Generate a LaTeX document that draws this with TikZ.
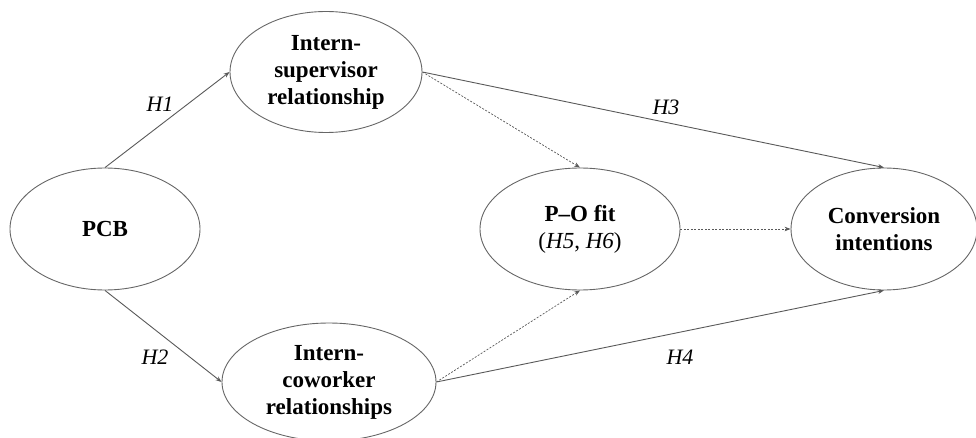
\documentclass[tikz,border=0pt]{standalone}
\usepackage{fontspec}
\setmainfont{Liberation Serif}
\usetikzlibrary{shapes.geometric,arrows.meta}
\begin{document}
\begin{tikzpicture}[x=1pt,y=-1pt,
  oval/.style={ellipse,draw=black!60,line width=0.9pt,inner sep=0pt,align=center,
    font=\fontsize{23}{27}\selectfont\bfseries},
  conn/.style={draw=black!65,line width=0.9pt,-{Stealth[length=6pt,width=4.5pt]}},
  dotconn/.style={conn,dash pattern=on 2pt off 1.5pt,line width=0.7pt},
  hlab/.style={font=\fontsize{22}{24}\selectfont\itshape}]
\useasboundingbox (0,0) rectangle (976,438);
\node[oval,minimum width=190,minimum height=122] (pcb) at (105,229) {PCB};
\node[oval,minimum width=192,minimum height=121] (sup) at (326,72) {Intern-\\supervisor\\relationship};
\node[oval,minimum width=214,minimum height=118] (cow) at (329,382) {Intern-\\coworker\\relationships};
\node[oval,minimum width=200,minimum height=122] (po) at (580,229) {P--O fit\\{\mdseries(\textit{H5}, \textit{H6})}};
\node[oval,minimum width=186,minimum height=122] (ci) at (884,229) {Conversion\\intentions};
\draw[conn] (pcb.north) -- (sup.west);
\draw[conn] (pcb.south) -- (cow.west);
\draw[conn] (sup.east) -- (ci.north);
\draw[dotconn] (sup.east) -- (po.north);
\draw[conn] (cow.east) -- (ci.south);
\draw[dotconn] (cow.east) -- (po.south);
\draw[dotconn] (po.east) -- (ci.west);
\node[hlab] (h1) at (160,104) {H1};
\node[hlab] (h2) at (155,357) {H2};
\node[hlab] (h3) at (666,107) {H3};
\node[hlab] (h4) at (680,357) {H4};
\end{tikzpicture}
\end{document}
